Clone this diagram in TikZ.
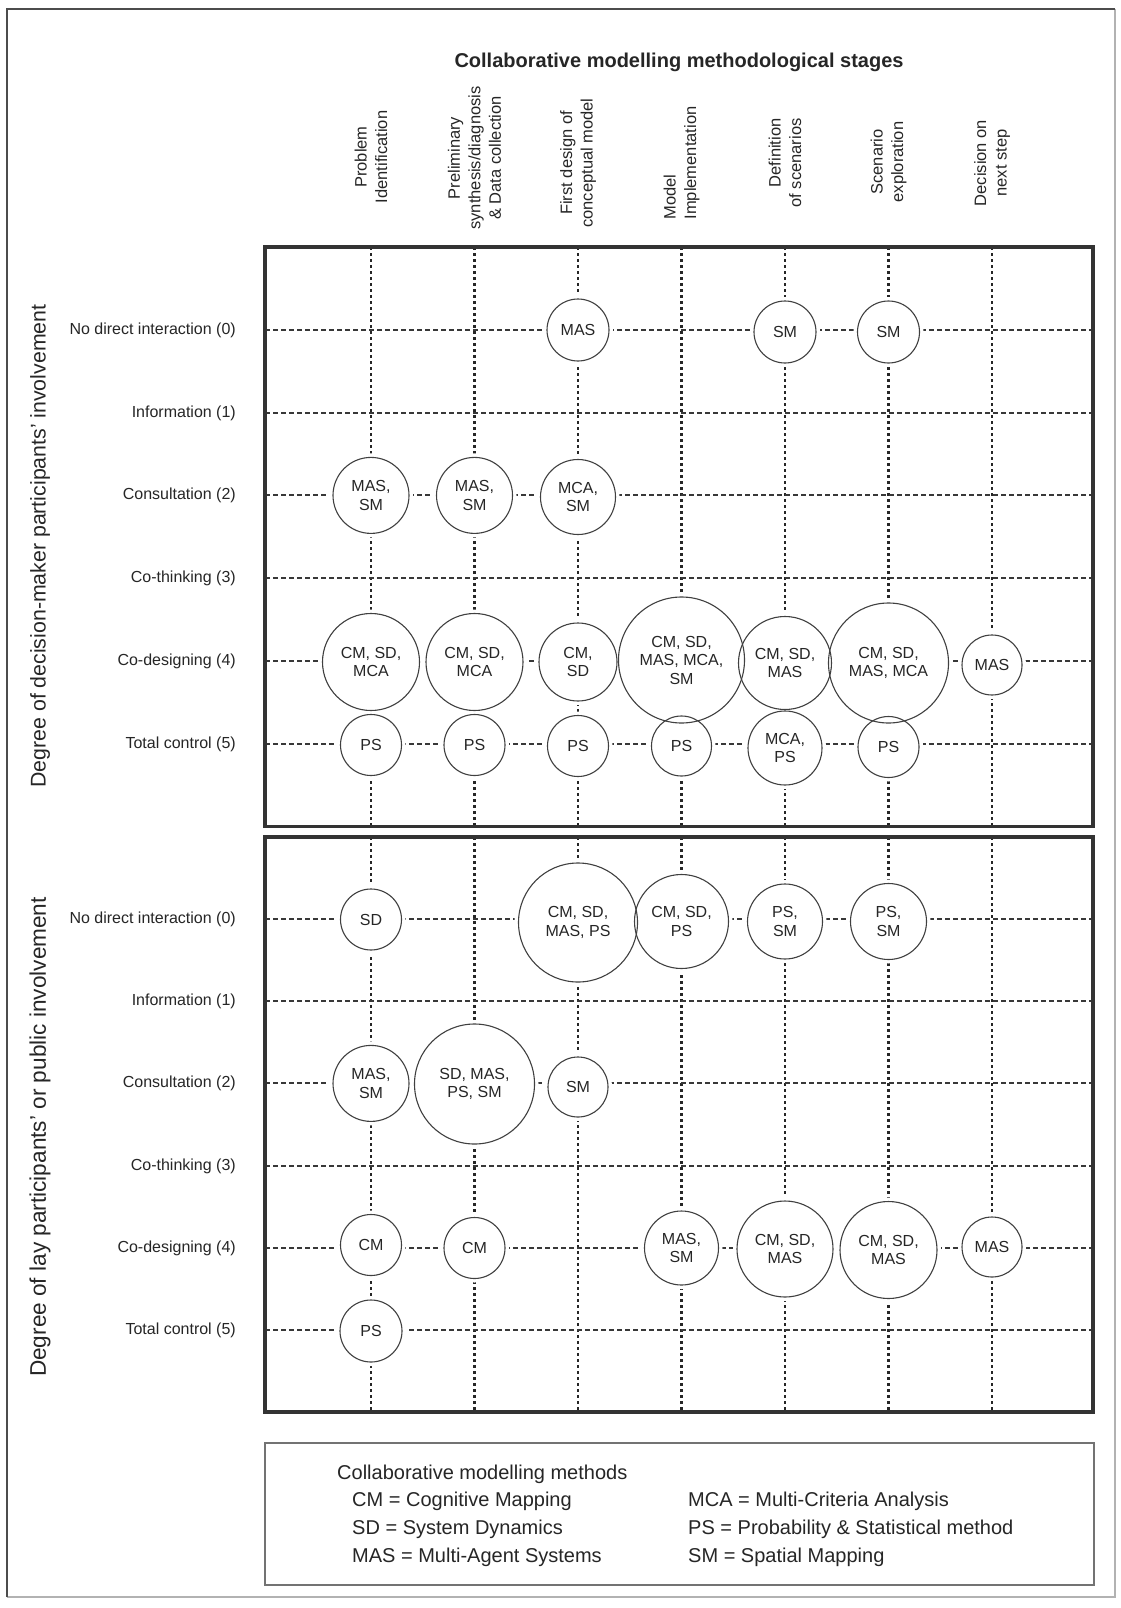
\documentclass[tikz,border=0pt]{standalone}
\usepackage{fontspec}
\setmainfont{Liberation Sans}
\begin{document}
\begin{tikzpicture}[x=1pt,y=-1pt,
  txt/.style={text=black!85, inner sep=0pt},
  rowlab/.style={txt, anchor=east, font=\fontsize{16}{19}\selectfont},
  collab/.style={txt, rotate=90, align=center, font=\fontsize{16.5}{20.5}\selectfont},
  axlab/.style={txt, rotate=90},
  legtxt/.style={txt, anchor=base west, font=\fontsize{20}{24}\selectfont},
  bub/.style={circle, draw=black!75, line width=1.1pt, inner sep=0pt, align=center,
              text=black!85, font=\fontsize{16}{18.5}\selectfont},
  hgrid/.style={draw=black!78, line width=2pt, dash pattern=on 5pt off 3pt},
  vgrid/.style={draw=black!85, line width=2.4pt, dash pattern=on 3.3pt off 2.7pt},
  panel/.style={draw=black!80, line width=3.5pt},
]
\useasboundingbox (0,0) rectangle (1120,1608);
\fill[white] (0,0) rectangle (1120,1608);

% outer frame
\draw[black!30, line width=1.5pt] (1115,9) -- (1115,1597) -- (7,1597);
\draw[black!70, line width=2pt] (7,1597) -- (7,9) -- (1115,9);

% title
\node[txt, anchor=base, font=\bfseries\fontsize{20}{24}\selectfont] (title) at (679,68)
  {Collaborative modelling methodological stages};

% column labels
\node[collab] (c1) at (371,157) {Problem\\Identification};
\node[collab] (c2) at (474.5,158) {Preliminary\\synthesis/diagnosis\\\& Data collection};
\node[collab] (c3) at (578,163) {First design of\\conceptual model};
\node[collab, align=left] (c4) at (681.5,163) {Model\\Implementation};
\node[collab, align=right] (c5) at (785,163) {Definition\\of scenarios};
\node[collab] (c6) at (888.5,162) {Scenario\\exploration};
\node[collab] (c7) at (992,163) {Decision on\\next step};

% axis labels
\node[axlab, font=\fontsize{21.3}{25}\selectfont] (ax1) at (40,546)
  {Degree of decision-maker participants' involvement};
\node[axlab, font=\fontsize{22.6}{26}\selectfont] (ax2) at (40,1137)
  {Degree of lay participants' or public involvement};

% grids
\foreach \c [count=\i] in {371,474.5,578,681.5,785,888.5,992} {
  \coordinate (UT\i) at (\c,247);   \coordinate (UB\i) at (\c,826.6);
  \coordinate (LT\i) at (\c,837);   \coordinate (LB\i) at (\c,1412);
  \draw[vgrid] (UT\i) -- (UB\i);
  \draw[vgrid] (LT\i) -- (LB\i);
}
\foreach \lab/\yu/\yl [count=\k] in {{No direct interaction (0)}/330/919,{Information (1)}/413/1001,
                             {Consultation (2)}/495/1083,{Co-thinking (3)}/578/1166,
                             {Co-designing (4)}/661/1248,{Total control (5)}/744/1330} {
  \coordinate (UL\k) at (265,\yu);  \coordinate (UR\k) at (1093,\yu);
  \coordinate (LL\k) at (265,\yl);  \coordinate (LR\k) at (1093,\yl);
  \draw[hgrid] (UL\k) -- (UR\k);
  \draw[hgrid] (LL\k) -- (LR\k);
  \node[rowlab] (ru\k) at (236,\yu) {\lab};
  \node[rowlab] (rl\k) at (236,\yl) {\lab};
}

% panels
\draw[panel] (265,247) rectangle (1093,826.6);
\draw[panel] (265,837) rectangle (1093,1412);

% bubbles
\def\bubblelist{%
 \B{u1}{578}{330}{31}{MAS}%
 \B{u2}{785}{332}{31}{SM}%
 \B{u3}{888.5}{332}{31}{SM}%
 \B{u4}{371}{495.4}{38}{MAS,\\SM}%
 \B{u5}{474.5}{495.4}{38}{MAS,\\SM}%
 \B{u6}{578}{497}{37.5}{MCA,\\SM}%
 \B{u7}{371}{662}{48.5}{CM, SD,\\MCA}%
 \B{u8}{474.5}{662}{48.5}{CM, SD,\\MCA}%
 \B{u9}{578}{662}{39}{CM,\\SD}%
 \B{u10}{681.5}{660}{63}{CM, SD,\\MAS, MCA,\\SM}%
 \B{u11}{785}{663}{46.5}{CM, SD,\\MAS}%
 \B{u12}{888.5}{663}{60}{CM, SD,\\MAS, MCA}%
 \B{u13}{992}{665}{30}{MAS}%
 \B{u14}{371}{745}{30.5}{PS}%
 \B{u15}{474.5}{745}{30.5}{PS}%
 \B{u16}{578}{746}{30.5}{PS}%
 \B{u17}{681.5}{746}{30}{PS}%
 \B{u18}{785}{748}{37}{MCA,\\PS}%
 \B{u19}{888.5}{747}{30.5}{PS}%
 \B{l1}{371}{919.5}{30.5}{SD}%
 \B{l2}{578}{922.5}{59.5}{CM, SD,\\MAS, PS}%
 \B{l3}{681.5}{921.5}{47}{CM, SD,\\PS}%
 \B{l4}{785}{921.5}{37.5}{PS,\\SM}%
 \B{l5}{888.5}{921.5}{38}{PS,\\SM}%
 \B{l6}{371}{1083.4}{38}{MAS,\\SM}%
 \B{l7}{474.5}{1084}{60}{SD, MAS,\\PS, SM}%
 \B{l8}{578}{1087}{30}{SM}%
 \B{l9}{371}{1245}{30.5}{CM}%
 \B{l10}{474.5}{1248}{30.5}{CM}%
 \B{l11}{681.5}{1248}{37}{MAS,\\SM}%
 \B{l12}{785}{1249}{48}{CM, SD,\\MAS}%
 \B{l13}{888.5}{1250}{48.5}{CM, SD,\\MAS}%
 \B{l14}{992}{1247}{30}{MAS}%
 \B{l15}{371}{1331}{31}{PS}%
}
\def\B#1#2#3#4#5{\fill[white] (#2,#3) circle[radius=#4+4];}
\bubblelist
\def\B#1#2#3#4#5{\node[bub, minimum size=2*#4] (#1) at (#2,#3) {#5};}
\bubblelist

% legend
\draw[black!55, line width=1.2pt] (265,1443) rectangle (1094,1585);
\node[legtxt] (lg0) at (337,1479) {Collaborative modelling methods};
\node[legtxt] (lg1) at (352,1506) {CM = Cognitive Mapping};
\node[legtxt] (lg2) at (352,1534) {SD = System Dynamics};
\node[legtxt] (lg3) at (352,1562) {MAS = Multi-Agent Systems};
\node[legtxt] (lg4) at (688,1506) {MCA = Multi-Criteria Analysis};
\node[legtxt] (lg5) at (688,1534) {PS = Probability \& Statistical method};
\node[legtxt] (lg6) at (688,1562) {SM = Spatial Mapping};
\end{tikzpicture}
\end{document}
